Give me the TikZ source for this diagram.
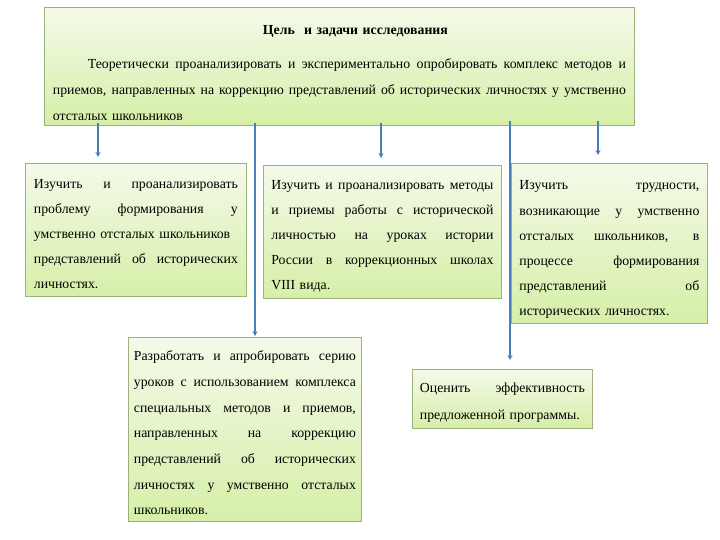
\documentclass[tikz,border=0pt]{standalone}
\usepackage{fontspec}
\setmainfont{Liberation Serif}
\usetikzlibrary{arrows.meta}
\definecolor{bordc}{HTML}{9DB17C}
\definecolor{topc}{HTML}{F4FAE9}
\definecolor{botc}{HTML}{D6EFA8}
\definecolor{arrc}{HTML}{4A7EBB}
\def\jlw{100pt}
\newcommand\jl[1]{\leavevmode\hbox to \jlw{\spaceskip=\fontdimen2\font plus 1fil\relax #1}}
\newcommand\st{\rule{0pt}{17pt}}
\newcommand\stb{\rule{0pt}{22pt}}
\begin{document}
\begin{tikzpicture}[x=1pt,y=-1pt,
  box/.style={draw=bordc, line width=0.8pt, top color=topc, bottom color=botc,
    inner sep=0pt, align=left, font=\fontsize{13.8}{25}\selectfont, anchor=north west},
  jbox/.style={box, text width=#1, execute at begin node={\def\jlw{#1}}},
  arr/.style={draw=arrc, line width=1.8pt, -{Stealth[length=5pt,width=5pt]}}]
\useasboundingbox[fill=white] (0,0) rectangle (720,540);

\node[jbox=573pt, minimum width=590pt, minimum height=118pt] (top) at (44,7)
 {\makebox[\jlw][c]{\hspace{32pt}\stb\bfseries Цель\ \ и задачи исследования}\\[9pt]
  \jl{\hspace*{35pt}Теоретически проанализировать и экспериментально опробировать комплекс методов и}\\[1.2pt]
  \jl{приемов, направленных на коррекцию представлений об исторических личностях у умственно}\\[1.2pt]
  отсталых школьников};

\node[jbox=204pt, minimum width=221pt, minimum height=133pt] (b1) at (25,163)
 {\jl{\st Изучить и проанализировать}\\
  \jl{проблему формирования у}\\
  умственно отсталых школьников\\
  \jl{представлений об исторических}\\
  личностях.};

\node[jbox=222pt, minimum width=238pt, minimum height=133pt] (b2) at (263,165)
 {\jl{\st Изучить и проанализировать методы}\\
  \jl{и приемы работы с исторической}\\
  \jl{личностью на уроках истории}\\
  \jl{России в коррекционных школах}\\
  VIII вида.};

\node[jbox=180pt, minimum width=196pt, minimum height=160pt,
      font=\fontsize{13.8}{25.2}\selectfont] (b3) at (511,163)
 {\jl{\stb Изучить трудности,}\\
  \jl{возникающие у умственно}\\
  \jl{отсталых школьников, в}\\
  \jl{процессе формирования}\\
  \jl{представлений об}\\
  исторических личностях.};

\node[jbox=222pt, minimum width=233pt, minimum height=184pt,
      font=\fontsize{13.8}{25.7}\selectfont] (b4) at (128,337)
 {\jl{\st Разработать и апробировать серию}\\
  \jl{уроков с использованием комплекса}\\
  \jl{специальных методов и приемов,}\\
  \jl{направленных на коррекцию}\\
  \jl{представлений об исторических}\\
  \jl{личностях у умственно отсталых}\\
  школьников.};

\node[jbox=165pt, minimum width=180pt, minimum height=59pt,
      font=\fontsize{13.8}{27}\selectfont] (b5) at (412,369)
 {\jl{\st Оценить эффективность}\\
  предложенной программы.};

\coordinate (c1) at (98,0);
\coordinate (c2) at (255,0);
\coordinate (c3) at (381,0);
\coordinate (c4) at (510,0);
\coordinate (c5) at (598,0);

\draw[arr] ([yshift=3pt]top.south -| c1) -- ([yshift=6pt]b1.north -| c1);
\draw[arr] ([yshift=3pt]top.south -| c2) -- ([yshift=1pt]b4.north -| c2);
\draw[arr] ([yshift=3pt]top.south -| c3) -- ([yshift=7pt]b2.north -| c3);
\draw[arr] ([yshift=5pt]top.south -| c4) -- ([yshift=9pt]b5.north -| c4);
\draw[arr] ([yshift=5pt]top.south -| c5) -- ([yshift=8pt]b3.north -| c5);
\end{tikzpicture}
\end{document}
